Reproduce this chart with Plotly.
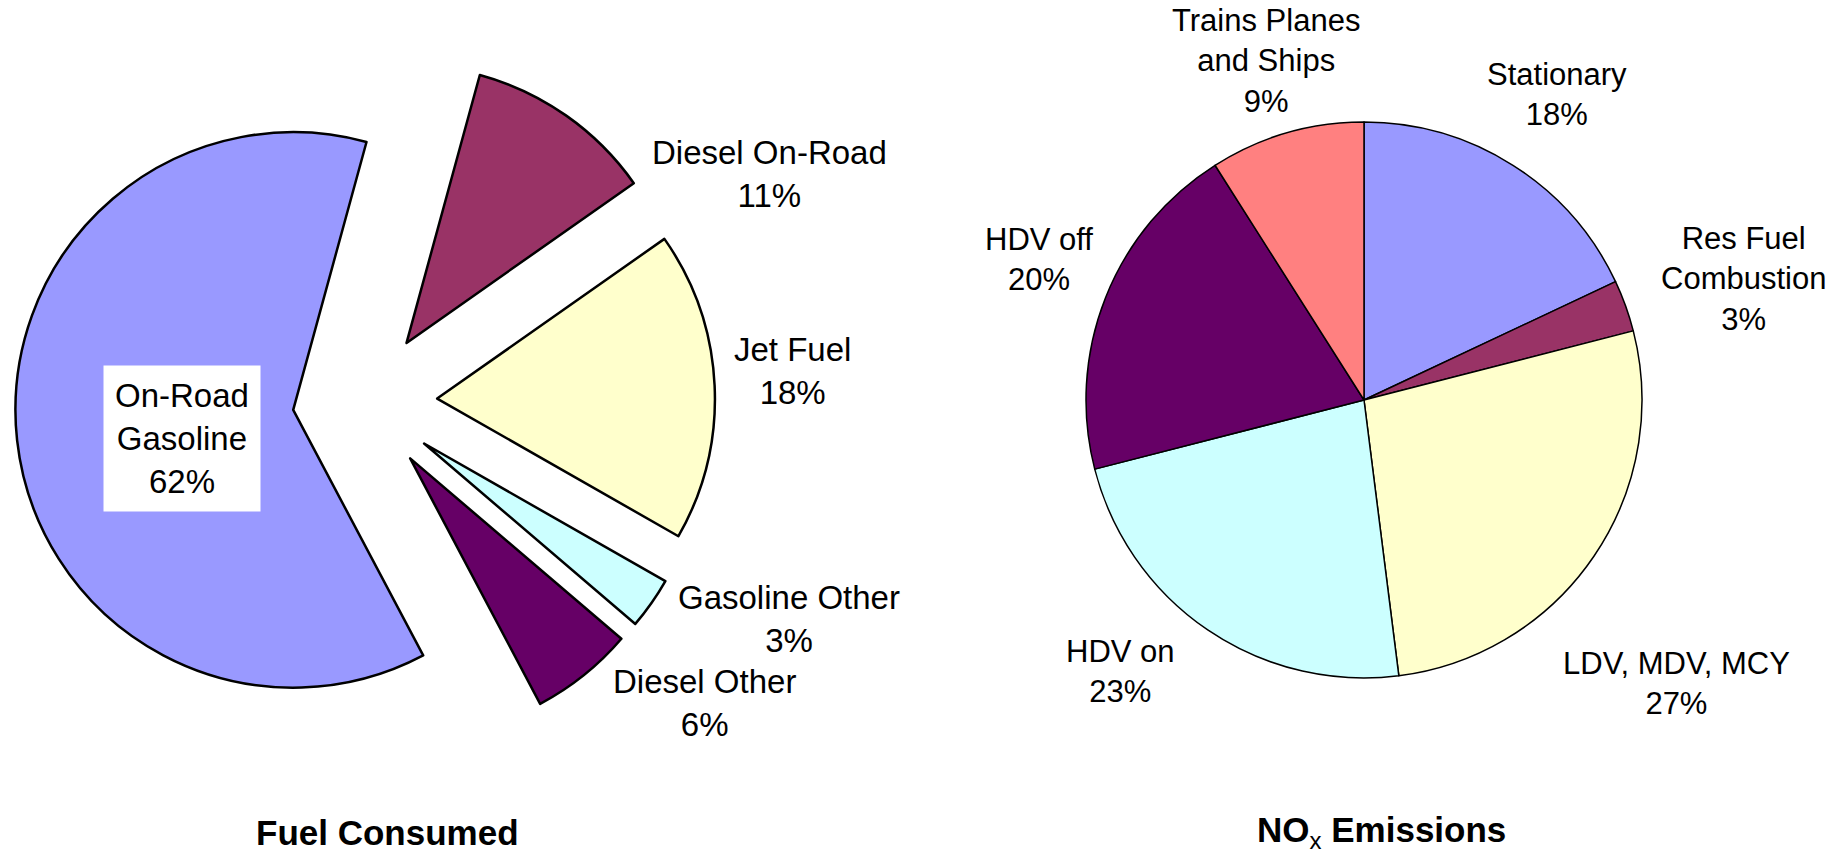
import plotly.graph_objects as go

# ---------------- data ----------------
fuel_labels = ["Diesel On-Road", "Jet Fuel", "Gasoline Other", "Diesel Other", "On-Road<br>Gasoline"]
fuel_values = [11, 18, 3, 6, 62]

nox_labels = ["Stationary", "Res Fuel<br>Combustion", "LDV, MDV, MCY", "HDV on", "HDV off", "Trains Planes<br>and Ships"]
nox_values = [18, 3, 27, 23, 20, 9]

fuel_title = "<b>Fuel Consumed</b>"
nox_title = "<b>NO</b><sub><span style='font-size:24px'>x</span></sub><b> Emissions</b>"

# ---------------- styling / layout ----------------
W, H = 1845, 853
FONT = "Arial, Liberation Sans, sans-serif"

fuel_colors = ["#993366", "#FFFFCC", "#CCFFFF", "#660066", "#9999FF"]
nox_colors = ["#9999FF", "#993366", "#FFFFCC", "#CCFFFF", "#660066", "#FF8080"]
fuel_pull = [0.26, 0.26, 0.26, 0.26, 0.26]


def px(x):
    return x / W


def py(y):
    return 1 - y / H


fig = go.Figure()

fig.add_trace(go.Pie(
    labels=fuel_labels, values=fuel_values, sort=False, direction="clockwise",
    rotation=15.3, pull=fuel_pull, textinfo="none", hoverinfo="label+percent",
    marker=dict(colors=fuel_colors, line=dict(color="black", width=2.5)),
    domain=dict(x=[px(0), px(730)], y=[py(752), py(52)]),
    showlegend=False,
))

fig.add_trace(go.Pie(
    labels=nox_labels, values=nox_values, sort=False, direction="clockwise",
    rotation=0, textinfo="none", hoverinfo="label+percent",
    marker=dict(colors=nox_colors, line=dict(color="black", width=1.5)),
    domain=dict(x=[px(1086), px(1642)], y=[py(678), py(122)]),
    showlegend=False,
))

# label anchor positions in pixels (layout only)
fuel_label_pos = [(769, 174), (792, 371), (789, 619), (704, 703), (182, 438)]
nox_label_pos = [(1557, 95), (1743, 279), (1676, 683), (1120, 671), (1039, 259), (1266, 61)]

annotations = []
for lab, val, (x, y) in zip(fuel_labels, fuel_values, fuel_label_pos):
    a = dict(x=px(x), y=py(y), xref="paper", yref="paper", showarrow=False,
             text=f"{lab}<br>{val}%", align="center", xanchor="center", yanchor="middle",
             font=dict(family=FONT, size=33, color="black"))
    if lab.startswith("On-Road"):
        a.update(bgcolor="white", borderpad=11)
    annotations.append(a)

for lab, val, (x, y) in zip(nox_labels, nox_values, nox_label_pos):
    annotations.append(dict(x=px(x), y=py(y), xref="paper", yref="paper", showarrow=False,
                            text=f"{lab}<br>{val}%", align="center", xanchor="center", yanchor="middle",
                            font=dict(family=FONT, size=31, color="black")))

annotations.append(dict(x=px(387), y=py(832), xref="paper", yref="paper", showarrow=False,
                        text=fuel_title, xanchor="center", yanchor="middle",
                        font=dict(family=FONT, size=35, color="black")))
annotations.append(dict(x=px(1381), y=py(832), xref="paper", yref="paper", showarrow=False,
                        text=nox_title, xanchor="center", yanchor="middle",
                        font=dict(family=FONT, size=35, color="black")))

fig.update_layout(
    width=W, height=H, margin=dict(l=0, r=0, t=0, b=0),
    paper_bgcolor="white", plot_bgcolor="white",
    annotations=annotations, showlegend=False,
)

fig.write_html(
    "out.html",
    config={"displayModeBar": False},
    post_script="document.body.style.margin='0';document.body.style.overflow='hidden';",
)
